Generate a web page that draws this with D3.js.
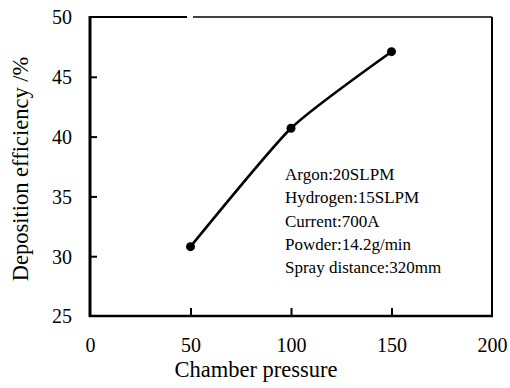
<!DOCTYPE html>
<html>
<head>
<meta charset="utf-8">
<script src="https://cdn.jsdelivr.net/npm/d3@7/dist/d3.min.js"></script>
<style>
  html, body { margin: 0; padding: 0; background: #fff; }
  svg { display: block; }
  svg text { font-family: "Liberation Serif", "Times New Roman", Times, "DejaVu Serif", serif !important; fill: #000; }
</style>
</head>
<body>
<svg id="chart" width="510" height="388"></svg>
<script>
// Data
const pressures = [50, 100, 150];
const efficiencies = [30.8, 40.7, 47.1];
const xTicks = [0, 50, 100, 150, 200];
const yTicks = [25, 30, 35, 40, 45, 50];
const notes = ["Argon:20SLPM", "Hydrogen:15SLPM", "Current:700A", "Powder:14.2g/min", "Spray distance:320mm"];
const xLabel = "Chamber pressure";
const yLabel = "Deposition efficiency /%";

const FONT = "'Liberation Serif', 'Times New Roman', Times, 'DejaVu Serif', serif";
const svg = d3.select("#chart");
const L = 90, R = 492, T = 17, B = 316;

const x = d3.scaleLinear().domain([0, 200]).range([L, R]);
const y = d3.scaleLinear().domain([25, 50]).range([B, T]);

// Y axis ticks + labels
const yAxis = d3.axisLeft(y).tickValues(yTicks).tickSizeInner(-7).tickSizeOuter(0).tickPadding(18);
const gy = svg.append("g").attr("transform", `translate(${L},0)`).call(yAxis)
  .attr("font-family", null);
gy.select(".domain").remove();
gy.selectAll(".tick line").attr("stroke", "#000").attr("stroke-width", 2)
  .filter(d => d === 25 || d === 50).remove();
gy.selectAll(".tick text").style("font-family", FONT).style("font-size", "20px").attr("dy", "0.34em");

// X axis ticks + labels
const xAxis = d3.axisBottom(x).tickValues(xTicks).tickSizeInner(-8).tickSizeOuter(0).tickPadding(22);
const gx = svg.append("g").attr("transform", `translate(0,${B})`).call(xAxis)
  .attr("font-family", null);
gx.select(".domain").remove();
gx.selectAll(".tick line").attr("stroke", "#000").attr("stroke-width", 2)
  .filter(d => d === 0 || d === 200).remove();
gx.selectAll(".tick text").style("font-family", FONT).style("font-size", "20px");

// Frame
const frame = svg.append("g").attr("stroke", "#000").attr("fill", "none");
frame.append("line").attr("x1", L).attr("x2", L).attr("y1", T - 1).attr("y2", B + 1).attr("stroke-width", 3);
frame.append("line").attr("x1", L - 1).attr("x2", R + 1).attr("y1", B).attr("y2", B).attr("stroke-width", 2.5);
frame.append("line").attr("x1", R).attr("x2", R).attr("y1", T).attr("y2", B).attr("stroke-width", 2);
frame.append("line").attr("x1", L).attr("x2", 187).attr("y1", T).attr("y2", T).attr("stroke-width", 2);
frame.append("line").attr("x1", 193).attr("x2", R).attr("y1", T).attr("y2", T).attr("stroke-width", 1.5);

// Curve
const pts = pressures.map((p, i) => [p, efficiencies[i]]);
const line = d3.line().x(d => x(d[0])).y(d => y(d[1])).curve(d3.curveCardinal.tension(0.45));
svg.append("path").datum(pts).attr("d", line)
  .attr("fill", "none").attr("stroke", "#000").attr("stroke-width", 2.6).attr("stroke-linejoin", "round");
svg.selectAll("circle.pt").data(pts).join("circle").attr("class", "pt")
  .attr("cx", d => x(d[0])).attr("cy", d => y(d[1])).attr("r", 4.5).attr("fill", "#000");

// Annotations
svg.append("g").selectAll("text").data(notes).join("text")
  .attr("x", 285).attr("y", (d, i) => 180 + i * 23.3)
  .style("font-family", FONT).style("font-size", "17px").text(d => d);

// Axis titles
svg.append("text").attr("x", (173 + 339) / 2).attr("y", 377).attr("text-anchor", "middle")
  .style("font-family", FONT).style("font-size", "22.5px").text(xLabel);
svg.append("text").attr("transform", `translate(28,169) rotate(-90)`).attr("text-anchor", "middle")
  .style("font-family", FONT).style("font-size", "22.5px").text(yLabel);
</script>
</body>
</html>
